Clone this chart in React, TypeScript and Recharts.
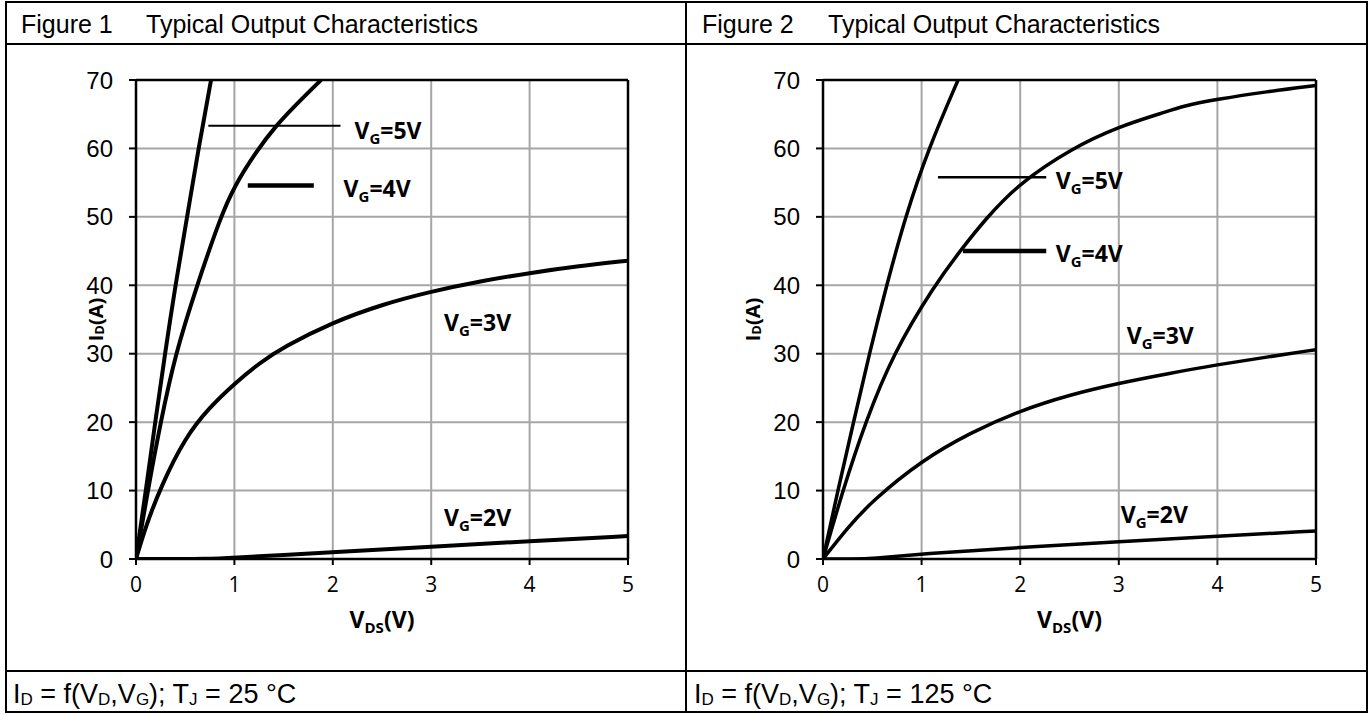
import React from "react";
import { CartesianGrid, Line, LineChart, ReferenceDot, ReferenceLine, XAxis, YAxis } from "recharts";

type Pt = [number, number];

// [V_DS (V), I_D (A)]
const tj25Vg5: Pt[] = [[0, 0], [0.1, 10], [0.2, 20.5], [0.3, 30.5], [0.4, 40], [0.52, 50], [0.635, 60], [0.763, 70]];
const tj25Vg4: Pt[] = [[0, 0], [0.12, 10], [0.25, 20], [0.4, 30], [0.62, 40], [0.86, 50], [1.0, 54.5], [1.22, 59.5], [1.42, 63.3], [1.64, 66.6], [1.88, 70]];
const tj25Vg3: Pt[] = [[0, 0], [0.1, 4.8], [0.25, 10.5], [0.5, 17.8], [0.75, 22.2], [1, 25.6], [1.25, 28.6], [1.5, 31], [2, 34.6], [2.5, 37.2], [3, 39.1], [3.5, 40.6], [4, 41.8], [4.5, 42.8], [5, 43.6]];
const tj25Vg2: Pt[] = [[0, 0], [0.4, 0], [0.7, 0], [1, 0.2], [1.5, 0.6], [2, 1.0], [3, 1.8], [4, 2.6], [5, 3.35]];

const tj125Vg5: Pt[] = [[0, 0], [0.15, 10], [0.31, 20], [0.47, 30], [0.645, 40], [0.835, 50], [1.07, 60], [1.37, 70]];
const tj125Vg4: Pt[] = [[0, 0], [0.2, 10], [0.43, 20], [0.71, 30], [1.13, 40], [1.4, 45.2], [1.655, 49.8], [1.98, 54.8], [2.52, 60], [3, 63.2], [3.45, 65.2], [3.65, 66.2], [4, 67.2], [4.5, 68.3], [5, 69.2]];
const tj125Vg3: Pt[] = [[0, 0], [0.25, 4.6], [0.5, 8.5], [1, 14.4], [1.5, 18.5], [2, 21.7], [2.5, 24], [3, 25.7], [3.5, 27.1], [4, 28.4], [4.5, 29.5], [5, 30.6]];
const tj125Vg2: Pt[] = [[0, 0], [0.3, 0], [0.5, 0.05], [1, 0.75], [2, 1.7], [3, 2.55], [4, 3.3], [5, 4.1]];

const vdsTicks = [0, 1, 2, 3, 4, 5];
const idTicks = [0, 10, 20, 30, 40, 50, 60, 70];

const toRows = (pts: Pt[]) => pts.map(([v, i]) => ({ v, i }));

// annotation placement, in data units
type Note = { vg: string; x: number; y: number };
type Key = { x1: number; x2: number; y: number; w: number };

const tj25Notes: Note[] = [
  { vg: "5", x: 2.22, y: 62.6 },
  { vg: "4", x: 2.11, y: 54 },
  { vg: "3", x: 3.13, y: 34.5 },
  { vg: "2", x: 3.13, y: 6 },
];
const tj25Keys: Key[] = [
  { x1: 0.735, x2: 2.078, y: 63.3, w: 2 },
  { x1: 1.136, x2: 1.807, y: 54.6, w: 4.5 },
];
const tj125Notes: Note[] = [
  { vg: "5", x: 2.36, y: 55.3 },
  { vg: "4", x: 2.36, y: 44.6 },
  { vg: "3", x: 3.08, y: 32.6 },
  { vg: "2", x: 3.02, y: 6.4 },
];
const tj125Keys: Key[] = [
  { x1: 1.166, x2: 2.264, y: 55.8, w: 2.5 },
  { x1: 1.419, x2: 2.264, y: 45, w: 4.5 },
];

const BOLD = "'Open Sans', 'Noto Sans', sans-serif";
const ARIAL = "'Liberation Sans', Arial, sans-serif";

function VgText({ viewBox, vg }: any) {
  const { x, y } = viewBox;
  return (
    <text x={x} y={y + 8} fontFamily={BOLD} fontWeight={700} fontSize={23} fill="#000">
      V
      <tspan fontSize={15} dy={5}>G</tspan>
      <tspan dy={-5}>={vg}V</tspan>
    </text>
  );
}

function XTitle({ viewBox }: any) {
  const { x, y, width } = viewBox;
  return (
    <text x={x + width / 2} y={y + 69} textAnchor="middle" fontFamily={BOLD} fontWeight={700} fontSize={23} fill="#000">
      V<tspan fontSize={15} dy={5}>DS</tspan>
      <tspan dy={-5}>(V)</tspan>
    </text>
  );
}

function YTitle({ cx }: { cx: number }) {
  return (props: any) => {
    const cy = props.viewBox.y + props.viewBox.height / 2;
    return (
      <text
        x={cx}
        y={cy}
        transform={`rotate(-90 ${cx} ${cy})`}
        textAnchor="middle"
        dominantBaseline="central"
        fontFamily={BOLD}
        fontWeight={700}
        fontSize={20}
        fill="#000"
      >
        I<tspan fontSize={13} dy={4}>D</tspan>
        <tspan dy={-4}>(A)</tspan>
      </text>
    );
  };
}

interface ChartProps {
  curves: Pt[][];
  notes: Note[];
  keys: Key[];
  left: number;
  width: number;
  marginLeft: number;
  marginRight: number;
  titleX: number;
  strokeWidth: number;
}

function OutputChart({ curves, notes, keys, left, width, marginLeft, marginRight, titleX, strokeWidth }: ChartProps) {
  return (
    <div style={{ position: "absolute", left, top: 0 }}>
      <LineChart width={width} height={671} margin={{ top: 80, right: marginRight, bottom: 52, left: marginLeft }}>
        <CartesianGrid stroke="#a6a6a6" strokeWidth={2} />
        <XAxis
          type="number"
          dataKey="v"
          domain={[0, 5]}
          ticks={vdsTicks}
          allowDataOverflow
          height={60}
          axisLine={{ stroke: "#000", strokeWidth: 2.5 }}
          tickLine={{ stroke: "#000", strokeWidth: 2 }}
          tickSize={6}
          tickMargin={12}
          tick={{ fill: "#000", fontSize: 21, fontFamily: BOLD }}
          label={<XTitle />}
        />
        <YAxis
          type="number"
          domain={[0, 70]}
          ticks={idTicks}
          allowDataOverflow
          width={60}
          axisLine={{ stroke: "#000", strokeWidth: 2.5 }}
          tickLine={{ stroke: "#000", strokeWidth: 2 }}
          tickSize={7}
          tickMargin={16}
          tick={{ fill: "#000", fontSize: 24, fontFamily: ARIAL }}
          label={{ content: YTitle({ cx: titleX }) }}
        />
        <ReferenceLine y={70} stroke="#000" strokeWidth={2.5} />
        <ReferenceLine x={5} stroke="#000" strokeWidth={2.5} />
        {curves.map((c, idx) => (
          <Line
            key={idx}
            data={toRows(c)}
            dataKey="i"
            type="basis"
            dot={false}
            stroke="#000"
            strokeWidth={strokeWidth}
            isAnimationActive={false}
          />
        ))}
        {keys.map((k, idx) => (
          <ReferenceLine
            key={"k" + idx}
            segment={[{ x: k.x1, y: k.y }, { x: k.x2, y: k.y }]}
            stroke="#000"
            strokeWidth={k.w}
          />
        ))}
        {notes.map((n) => (
          <ReferenceDot key={n.vg} x={n.x} y={n.y} r={0} fill="none" stroke="none" label={<VgText vg={n.vg} />} />
        ))}
      </LineChart>
    </div>
  );
}

const headStyle: React.CSSProperties = {
  position: "absolute",
  fontFamily: ARIAL,
  fontSize: 25,
  color: "#000",
  whiteSpace: "nowrap",
  lineHeight: "30px",
  top: 9,
};

function Footer({ left, tj }: { left: number; tj: string }) {
  const sub: React.CSSProperties = { fontSize: 17, position: "relative", top: 2 };
  return (
    <div style={{ ...headStyle, fontSize: 27, lineHeight: "32px", left, top: 678 }}>
      I<span style={sub}>D</span> = f(V<span style={sub}>D</span>,V<span style={sub}>G</span>); T
      <span style={sub}>J</span> = {tj} °C
    </div>
  );
}

export default function App() {
  const line = (s: React.CSSProperties) => <div style={{ position: "absolute", background: "#000", ...s }} />;
  return (
    <div style={{ position: "absolute", left: 0, top: 0, width: 1370, height: 715, background: "#fff" }}>
      {line({ left: 5, top: 1, width: 1363, height: 2 })}
      {line({ left: 5, top: 711, width: 1363, height: 2 })}
      {line({ left: 5, top: 1, width: 2, height: 712 })}
      {line({ left: 1366, top: 1, width: 2, height: 712 })}
      {line({ left: 685, top: 1, width: 2, height: 712 })}
      {line({ left: 5, top: 43, width: 1363, height: 2 })}
      {line({ left: 5, top: 670, width: 1363, height: 2 })}

      <div style={{ ...headStyle, left: 21 }}>Figure 1</div>
      <div style={{ ...headStyle, left: 146 }}>Typical Output Characteristics</div>
      <div style={{ ...headStyle, left: 702 }}>Figure 2</div>
      <div style={{ ...headStyle, left: 828 }}>Typical Output Characteristics</div>

      <OutputChart
        curves={[tj25Vg5, tj25Vg4, tj25Vg3, tj25Vg2]}
        notes={tj25Notes}
        keys={tj25Keys}
        left={0}
        width={686}
        marginLeft={76}
        marginRight={58}
        titleX={95}
        strokeWidth={4}
      />
      <OutputChart
        curves={[tj125Vg5, tj125Vg4, tj125Vg3, tj125Vg2]}
        notes={tj125Notes}
        keys={tj125Keys}
        left={686}
        width={681}
        marginLeft={77}
        marginRight={51}
        titleX={66}
        strokeWidth={3.5}
      />

      <Footer left={13} tj="25" />
      <Footer left={694} tj="125" />
    </div>
  );
}
